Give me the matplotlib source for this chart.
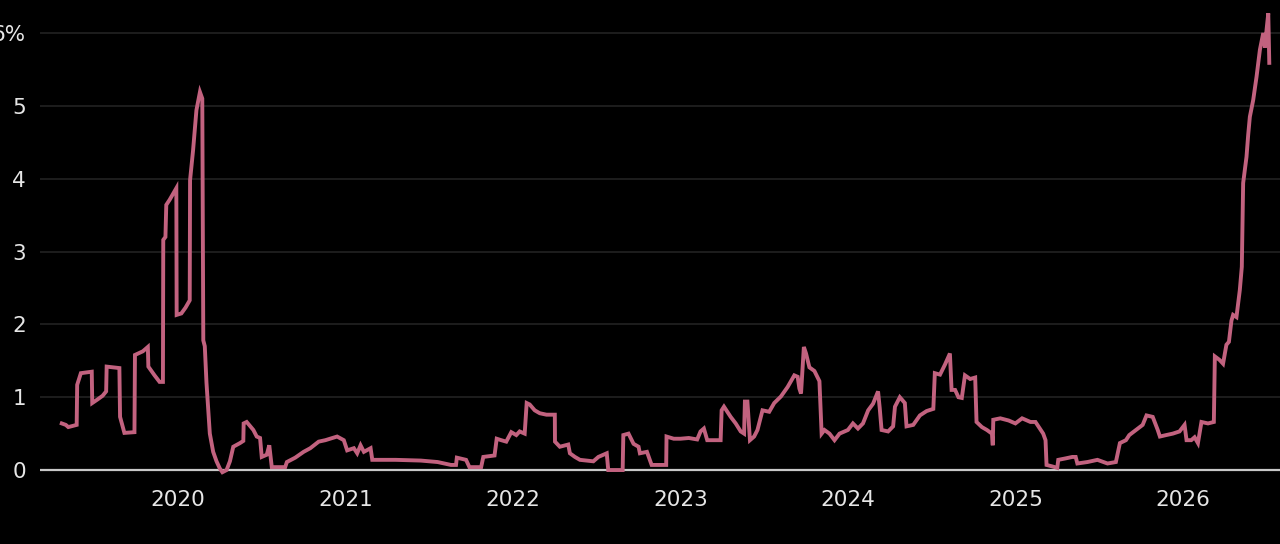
import matplotlib
matplotlib.use('Agg')
import matplotlib.pyplot as plt

# Rate series (decimal year, percent)
years = [
    2019.306, 2019.33, 2019.345, 2019.38, 2019.395, 2019.398, 2019.42, 2019.485, 2019.488, 2019.52,
    2019.55, 2019.571, 2019.574, 2019.65, 2019.654, 2019.68, 2019.74, 2019.743, 2019.79, 2019.82,
    2019.823, 2019.86, 2019.89, 2019.91, 2019.912, 2019.925, 2019.93, 2019.95, 2019.99, 2019.992,
    2020.02, 2020.045, 2020.07, 2020.072, 2020.09, 2020.11, 2020.131, 2020.145, 2020.151, 2020.16,
    2020.17, 2020.19, 2020.21, 2020.23, 2020.25, 2020.265, 2020.29, 2020.31, 2020.33, 2020.37,
    2020.39, 2020.392, 2020.41, 2020.45, 2020.47, 2020.49, 2020.50, 2020.53, 2020.545, 2020.56,
    2020.64, 2020.65, 2020.70, 2020.75, 2020.79, 2020.84, 2020.88, 2020.95, 2020.99, 2021.01,
    2021.05, 2021.07, 2021.09, 2021.11, 2021.15, 2021.16, 2021.30, 2021.45, 2021.55, 2021.63,
    2021.66, 2021.665, 2021.72, 2021.74, 2021.81, 2021.823, 2021.89, 2021.903, 2021.93, 2021.96,
    2021.99, 2022.02, 2022.04, 2022.07, 2022.082, 2022.10, 2022.13, 2022.16, 2022.20, 2022.25,
    2022.251, 2022.28, 2022.33, 2022.34, 2022.37, 2022.40, 2022.48, 2022.51, 2022.56, 2022.569,
    2022.655, 2022.659, 2022.69, 2022.72, 2022.75, 2022.758, 2022.80, 2022.828, 2022.915, 2022.917,
    2022.96, 2023.00, 2023.05, 2023.10, 2023.12, 2023.14, 2023.16, 2023.24, 2023.246, 2023.26,
    2023.30, 2023.33, 2023.36, 2023.38, 2023.385, 2023.40, 2023.415, 2023.44, 2023.46, 2023.49,
    2023.53, 2023.56, 2023.60, 2023.64, 2023.68, 2023.70, 2023.71, 2023.72, 2023.737, 2023.75,
    2023.77, 2023.80, 2023.83, 2023.843, 2023.86, 2023.89, 2023.92, 2023.95, 2024.00, 2024.03,
    2024.06, 2024.09, 2024.121, 2024.15, 2024.18, 2024.19, 2024.201, 2024.24, 2024.27, 2024.281,
    2024.31, 2024.34, 2024.35, 2024.39, 2024.43, 2024.47, 2024.51, 2024.519, 2024.55, 2024.58,
    2024.609, 2024.619, 2024.64, 2024.66, 2024.68, 2024.699, 2024.73, 2024.76, 2024.768, 2024.80,
    2024.83, 2024.86, 2024.865, 2024.868, 2024.91, 2024.96, 2025.00, 2025.04, 2025.09, 2025.12,
    2025.14, 2025.166, 2025.18, 2025.186, 2025.22, 2025.25, 2025.256, 2025.30, 2025.34, 2025.36,
    2025.37, 2025.43, 2025.49, 2025.55, 2025.60, 2025.624, 2025.66, 2025.68, 2025.72, 2025.76,
    2025.783, 2025.82, 2025.85, 2025.863, 2025.90, 2025.94, 2025.98, 2026.01, 2026.022, 2026.05,
    2026.07, 2026.09, 2026.111, 2026.15, 2026.185, 2026.191, 2026.22, 2026.24, 2026.26, 2026.275,
    2026.29, 2026.30, 2026.32, 2026.34, 2026.352, 2026.36, 2026.38, 2026.39, 2026.40, 2026.42,
    2026.44, 2026.46, 2026.48, 2026.49, 2026.50, 2026.51, 2026.516,
]
rate = [
    0.64, 0.62, 0.59, 0.61, 0.62, 1.17, 1.33, 1.35, 0.92, 0.97,
    1.02, 1.08, 1.42, 1.40, 0.73, 0.51, 0.52, 1.58, 1.63, 1.69,
    1.42, 1.30, 1.21, 1.21, 3.16, 3.20, 3.64, 3.71, 3.87, 2.13,
    2.15, 2.23, 2.33, 3.98, 4.39, 4.94, 5.19, 5.10, 1.78, 1.70,
    1.20, 0.50, 0.25, 0.12, 0.02, -0.03, 0.00, 0.12, 0.32, 0.37,
    0.40, 0.64, 0.66, 0.55, 0.46, 0.44, 0.18, 0.21, 0.34, 0.04,
    0.04, 0.11, 0.17, 0.25, 0.30, 0.39, 0.41, 0.46, 0.41, 0.27,
    0.30, 0.23, 0.34, 0.25, 0.30, 0.14, 0.14, 0.13, 0.11, 0.07,
    0.07, 0.17, 0.14, 0.04, 0.04, 0.18, 0.20, 0.43, 0.41, 0.39,
    0.52, 0.48, 0.53, 0.50, 0.92, 0.90, 0.82, 0.78, 0.76, 0.76,
    0.39, 0.32, 0.35, 0.23, 0.18, 0.14, 0.12, 0.18, 0.23, 0.00,
    0.00, 0.48, 0.50, 0.36, 0.32, 0.23, 0.25, 0.07, 0.07, 0.46,
    0.43, 0.43, 0.44, 0.42, 0.53, 0.57, 0.41, 0.41, 0.82, 0.87,
    0.73, 0.64, 0.53, 0.50, 0.94, 0.94, 0.41, 0.46, 0.55, 0.82,
    0.80, 0.92, 1.01, 1.14, 1.30, 1.28, 1.12, 1.05, 1.69, 1.60,
    1.41, 1.36, 1.22, 0.50, 0.55, 0.50, 0.41, 0.50, 0.55, 0.64,
    0.57, 0.64, 0.82, 0.91, 1.08, 0.85, 0.55, 0.53, 0.60, 0.87,
    1.00, 0.92, 0.60, 0.62, 0.75, 0.81, 0.84, 1.33, 1.31, 1.45,
    1.60, 1.10, 1.10, 1.00, 0.99, 1.30, 1.25, 1.27, 0.66, 0.59,
    0.55, 0.50, 0.34, 0.69, 0.71, 0.68, 0.64, 0.71, 0.66, 0.66,
    0.59, 0.50, 0.41, 0.07, 0.05, 0.03, 0.14, 0.16, 0.18, 0.18,
    0.09, 0.11, 0.14, 0.09, 0.11, 0.37, 0.41, 0.48, 0.55, 0.62,
    0.75, 0.73, 0.55, 0.46, 0.48, 0.50, 0.53, 0.62, 0.41, 0.41,
    0.45, 0.37, 0.66, 0.64, 0.66, 1.56, 1.51, 1.46, 1.72, 1.76,
    2.05, 2.13, 2.10, 2.47, 2.79, 3.94, 4.30, 4.60, 4.85, 5.08,
    5.40, 5.77, 6.00, 5.80, 6.05, 6.27, 5.59,
]

year_ticks = [2020, 2021, 2022, 2023, 2024, 2025, 2026]
y_ticks = [0, 1, 2, 3, 4, 5, 6]
y_labels = ['0', '1', '2', '3', '4', '5', '6%']

fig = plt.figure(figsize=(12.8, 5.44), dpi=100, facecolor='black')
ax = fig.add_axes([0.03125, 0.1176, 0.96875, 0.8824])
ax.set_facecolor('black')

# faint horizontal grid, brighter baseline
for yv in y_ticks[1:]:
    ax.axhline(yv, color='#222222', linewidth=1.2, zorder=1)
ax.axhline(0, color='#c8c8c8', linewidth=1.6, zorder=2)

ax.plot(years, rate, color='#c2627f', linewidth=2.8, solid_joinstyle='miter', zorder=3)

ax.set_xlim(2019.176, 2026.58)
ax.set_ylim(-0.137, 6.453)

ax.set_xticks(year_ticks)
ax.set_xticklabels([str(y) for y in year_ticks])
ax.set_yticks(y_ticks)
ax.set_yticklabels(y_labels)
ax.tick_params(axis='both', length=0, colors='#e6e6e6', labelsize=15.5)
ax.tick_params(axis='y', pad=10)
ax.tick_params(axis='x', pad=7)

for s in ax.spines.values():
    s.set_visible(False)

fig.savefig('out.png', dpi=100, facecolor='black')
